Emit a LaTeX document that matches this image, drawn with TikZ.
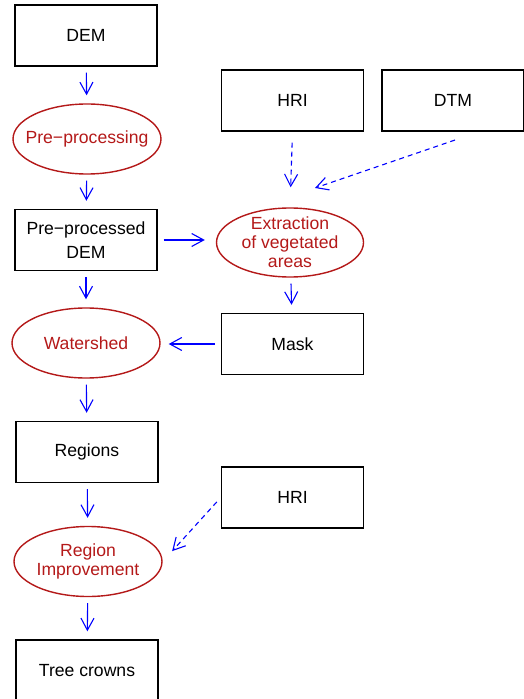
\documentclass[tikz,border=0pt]{standalone}
\usepackage{fontspec}
\setmainfont{Liberation Sans}
\usetikzlibrary{shapes.geometric,arrows.meta}
\definecolor{procred}{RGB}{180,25,25}
\tikzset{
  databox/.style={draw,line width=0.7pt,minimum width=71pt,minimum height=30.5pt,inner sep=0pt,align=center,font=\fontsize{8.8}{12}\selectfont},
  procstep/.style={ellipse,draw=procred,text=procred,line width=0.7pt,minimum width=74pt,minimum height=35pt,inner xsep=-8pt,inner ysep=-4pt,align=center,font=\fontsize{8.8}{9.6}\selectfont},
  flow/.style={blue,line width=0.55pt,-{Straight Barb[length=6pt,width=6.5pt]},shorten <=3pt,shorten >=4pt},
  hint/.style={flow,dash pattern=on 2.5pt off 2pt}
}

\begin{document}
\begin{tikzpicture}[x=0.5pt,y=-0.5pt]
    \useasboundingbox (0,0) rectangle (523,699);

    % main chain
    \node[databox] (dem) at (86,35.5) {DEM};
    \node[procstep] (prep) at (87,139) {Pre−processing};
    \node[databox] (ppdem) at (86,240) {Pre−processed\\DEM};
    \node[procstep] (wshed) at (86,343) {Watershed};
    \node[databox] (regions) at (87,452) {Regions};
    \node[procstep] (rimp) at (88,561.5) {Region\\Improvement};
    \node[databox] (trees) at (87,670.5) {Tree crowns};

    % side inputs
    \node[databox] (hri) at (292.5,100.5) {HRI};
    \node[databox] (dtm) at (453,100.5) {DTM};
    \node[procstep,minimum width=73.5pt,minimum height=34.5pt] (extr) at (290,242.5) {Extraction\\of vegetated\\areas};
    \node[databox] (mask) at (292.5,344) {Mask};
    \node[databox] (hrib) at (292.5,497.5) {HRI};

    \coordinate (dtmout) at (455,140);
    \coordinate (extrin) at (315,188);

    \draw[flow] (dem) -- (prep);
    \draw[flow] (prep) -- (ppdem);
    \draw[flow] (ppdem) -- (wshed);
    \draw[flow] (wshed) -- (regions);
    \draw[flow] (regions) -- (rimp);
    \draw[flow] (rimp) -- (trees);
    \draw[flow,shorten >=5.5pt] (ppdem.east) -- (ppdem.east -| extr.west);
    \draw[flow] (extr) -- (mask);
    \draw[flow] (mask) -- (mask -| wshed.east);
    \draw[hint,shorten <=5.5pt,shorten >=10pt] (hri.south) -- (extr.north);
    \draw[hint,shorten <=0pt,shorten >=0pt] (dtmout) -- (extrin);
    \draw[hint,shorten >=7pt] (hrib.west) -- (rimp.east);
\end{tikzpicture}
\end{document}
